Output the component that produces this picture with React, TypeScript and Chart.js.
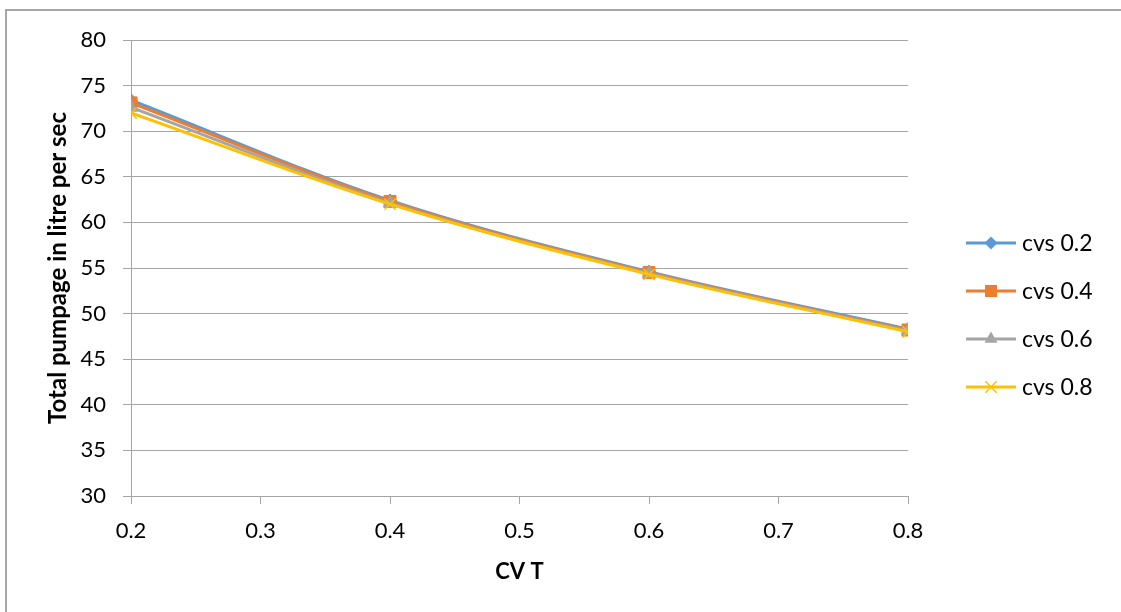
import React, { useEffect, useRef } from "react";
import { Chart, registerables } from "chart.js";

Chart.register(...registerables);

// CV T values on the horizontal axis
const cvT = [0.2, 0.4, 0.6, 0.8];

// Total pumpage (litre per sec) for each cvs series
const cvs02 = [73.4, 62.4, 54.6, 48.3];
const cvs04 = [73.1, 62.3, 54.5, 48.2];
const cvs06 = [72.6, 62.1, 54.4, 48.1];
const cvs08 = [72.0, 62.0, 54.3, 48.0];

const seriesNames = ["cvs 0.2", "cvs 0.4", "cvs 0.6", "cvs 0.8"];
const seriesColors = ["#5B9BD5", "#ED7D31", "#A5A5A5", "#FFC000"];
const seriesMarkers = ["rectRot", "rect", "triangle", "crossRot"];
const markerRadius = [6.5, 8.5, 7.5, 8];

const FONT = "Lato, 'Open Sans', sans-serif";

function drawMarker(
  ctx: CanvasRenderingContext2D,
  style: string,
  r: number,
  x: number,
  y: number
) {
  ctx.beginPath();
  if (style === "rectRot") {
    ctx.moveTo(x, y - r);
    ctx.lineTo(x + r, y);
    ctx.lineTo(x, y + r);
    ctx.lineTo(x - r, y);
    ctx.closePath();
    ctx.fill();
  } else if (style === "rect") {
    const s = r * Math.SQRT1_2;
    ctx.rect(x - s, y - s, 2 * s, 2 * s);
    ctx.fill();
  } else if (style === "triangle") {
    ctx.moveTo(x, y - r);
    ctx.lineTo(x + r * 0.866, y + r * 0.5);
    ctx.lineTo(x - r * 0.866, y + r * 0.5);
    ctx.closePath();
    ctx.fill();
  } else {
    const s = r * Math.SQRT1_2;
    ctx.moveTo(x - s, y - s);
    ctx.lineTo(x + s, y + s);
    ctx.moveTo(x + s, y - s);
    ctx.lineTo(x - s, y + s);
    ctx.stroke();
  }
}

const App: React.FC = () => {
  const canvasRef = useRef<HTMLCanvasElement | null>(null);

  useEffect(() => {
    if (!canvasRef.current) return;
    const allSeries = [cvs02, cvs04, cvs06, cvs08];

    const datasets = allSeries.map((vals, i) => ({
      label: seriesNames[i],
      data: vals.map((v, j) => ({ x: cvT[j], y: v })),
      borderColor: seriesColors[i],
      backgroundColor: seriesColors[i],
      borderWidth: 3,
      tension: 0.35,
      pointStyle: seriesMarkers[i] as any,
      pointRadius: markerRadius[i],
      pointBorderWidth: seriesMarkers[i] === "crossRot" ? 1.5 : 1,
      pointBorderColor: seriesColors[i],
      pointBackgroundColor: seriesColors[i],
      order: 3 - i,
    }));

    // Legend drawn to the right of the plot: line with marker plus label
    const sideLegend = {
      id: "sideLegend",
      afterDraw(chart: any) {
        const ctx = chart.ctx as CanvasRenderingContext2D;
        const x0 = 966;
        const x1 = 1016;
        const ys = [243, 291, 339, 387];
        ctx.save();
        seriesNames.forEach((name, i) => {
          const y = ys[i];
          ctx.strokeStyle = seriesColors[i];
          ctx.lineWidth = 3;
          ctx.beginPath();
          ctx.moveTo(x0, y);
          ctx.lineTo(x1, y);
          ctx.stroke();
          ctx.fillStyle = seriesColors[i];
          ctx.lineWidth = seriesMarkers[i] === "crossRot" ? 1.5 : 1;
          drawMarker(ctx, seriesMarkers[i], markerRadius[i], (x0 + x1) / 2, y);
          ctx.fillStyle = "#000";
          ctx.font = `23px ${FONT}`;
          ctx.textAlign = "left";
          ctx.textBaseline = "middle";
          ctx.fillText(name, x1 + 6, y + 1);
        });
        ctx.restore();
      },
    };

    const chart = new Chart(canvasRef.current, {
      type: "line",
      data: { datasets },
      plugins: [sideLegend],
      options: {
        animation: false,
        responsive: false,
        maintainAspectRatio: false,
        layout: { padding: { left: 0, top: 40, right: 213, bottom: 0 } },
        plugins: {
          legend: { display: false },
          tooltip: { enabled: false },
        },
        scales: {
          x: {
            type: "linear",
            min: 0.2,
            max: 0.8,
            ticks: {
              stepSize: 0.1,
              color: "#000",
              font: { family: FONT, size: 22 },
              padding: 14,
              maxRotation: 0,
              callback: (v: any) => Number(v).toFixed(1),
            },
            grid: {
              drawOnChartArea: false,
              drawTicks: true,
              tickLength: 8,
              color: "#A6A6A6",
            },
            border: { display: true, color: "#A6A6A6", width: 1 },
            title: {
              display: true,
              text: "CV T",
              color: "#000",
              font: { family: FONT, size: 22, weight: "bold" },
              padding: { top: 0, bottom: 27 },
            },
            afterFit: (scale: any) => {
              scale.height = 116;
            },
          },
          y: {
            min: 30,
            max: 80,
            ticks: {
              stepSize: 5,
              color: "#000",
              font: { family: FONT, size: 22 },
              padding: 17,
            },
            grid: {
              drawOnChartArea: true,
              drawTicks: true,
              tickLength: 8,
              color: "#A6A6A6",
            },
            border: { display: true, color: "#A6A6A6", width: 1 },
            title: {
              display: true,
              text: "Total pumpage in litre per sec",
              color: "#000",
              font: { family: FONT, size: 24, weight: "bold" },
              padding: { top: 44, bottom: 0 },
            },
            afterFit: (scale: any) => {
              scale.width = 131;
            },
          },
        },
      },
    });

    return () => chart.destroy();
  }, []);

  return (
    <div
      style={{
        position: "fixed",
        left: 0,
        top: 0,
        width: 1121,
        height: 612,
        background: "#fff",
        overflow: "hidden",
      }}
    >
      <div
        style={{
          position: "absolute",
          left: 5,
          top: 9,
          width: 1200,
          height: 700,
          border: "2px solid #A6A6A6",
          boxSizing: "border-box",
        }}
      />
      <canvas
        ref={canvasRef}
        width={1121}
        height={612}
        style={{ position: "absolute", left: 0, top: 0 }}
      />
    </div>
  );
};

export default App;
